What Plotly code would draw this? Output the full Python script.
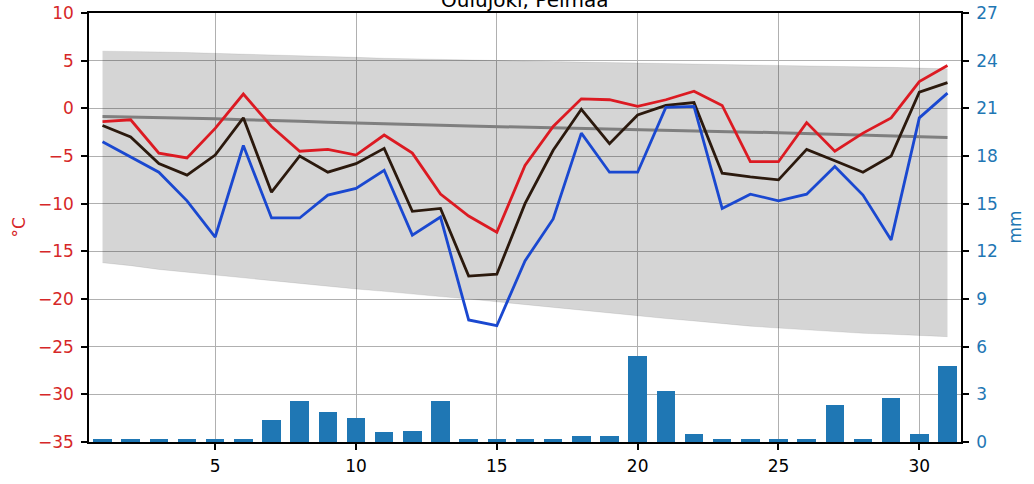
import plotly.graph_objects as go

days = list(range(1, 32))
title_text = "Oulujoki, Pelmaa"

t_max = [-1.4, -1.2, -4.7, -5.2, -2.1, 1.5, -1.9, -4.5, -4.3, -4.9, -2.8, -4.7, -9.0, -11.3, -13.0,
         -6.0, -1.9, 1.0, 0.9, 0.2, 0.9, 1.8, 0.3, -5.6, -5.6, -1.5, -4.5, -2.6, -1.0, 2.8, 4.5]
t_mean = [-1.8, -3.0, -5.8, -7.0, -4.9, -1.0, -8.8, -5.0, -6.7, -5.8, -4.2, -10.8, -10.5, -17.6, -17.4,
          -10.0, -4.4, -0.1, -3.7, -0.7, 0.3, 0.6, -6.8, -7.2, -7.5, -4.3, -5.5, -6.7, -5.0, 1.7, 2.7]
t_min = [-3.5, -5.1, -6.7, -9.7, -13.5, -3.9, -11.5, -11.5, -9.1, -8.4, -6.5, -13.3, -11.4, -22.2, -22.8,
         -16.0, -11.6, -2.6, -6.7, -6.7, 0.1, 0.2, -10.5, -9.0, -9.7, -9.0, -6.1, -9.1, -13.8, -1.0, 1.6]
precip = [0.2, 0.2, 0.2, 0.2, 0.2, 0.2, 1.4, 2.6, 1.9, 1.5, 0.6, 0.7, 2.6, 0.2, 0.2,
          0.2, 0.2, 0.4, 0.4, 5.4, 3.2, 0.5, 0.2, 0.2, 0.2, 0.2, 2.3, 0.2, 2.8, 0.5, 4.8]
band_upper = [6.0, 5.98, 5.92, 5.85, 5.78, 5.7, 5.62, 5.55, 5.45, 5.35, 5.25, 5.18, 5.12, 5.06, 5.0,
              4.95, 4.9, 4.85, 4.8, 4.76, 4.72, 4.68, 4.64, 4.6, 4.55, 4.5, 4.45, 4.38, 4.3, 4.22, 4.14]
band_lower = [-16.2, -16.5, -16.9, -17.2, -17.5, -17.8, -18.1, -18.4, -18.7, -18.95, -19.2, -19.5, -19.75,
              -20.0, -20.3, -20.6, -20.9, -21.2, -21.5, -21.8, -22.05, -22.3, -22.6, -22.85, -23.05,
              -23.25, -23.45, -23.6, -23.7, -23.8, -23.95]
median = [-0.85, -0.9, -0.95, -1.0, -1.1, -1.2, -1.25, -1.35, -1.45, -1.55, -1.65, -1.72, -1.78, -1.85,
          -1.92, -2.0, -2.05, -2.12, -2.2, -2.27, -2.33, -2.38, -2.43, -2.5, -2.55, -2.62, -2.7, -2.78,
          -2.86, -2.95, -3.05]

left_ticks = [10, 5, 0, -5, -10, -15, -20, -25, -30, -35]
right_ticks = [0, 3, 6, 9, 12, 15, 18, 21, 24, 27]
x_ticks = [5, 10, 15, 20, 25, 30]

RED = "#d62728"
BLUE = "#1f77b4"
FONT = "DejaVu Sans"

fig = go.Figure()

fig.add_trace(go.Scatter(x=days, y=band_lower, mode="lines",
                         line=dict(color="rgba(0,0,0,0.08)", width=1), showlegend=False))
fig.add_trace(go.Scatter(x=days, y=band_upper, mode="lines", fill="tonexty",
                         fillcolor="rgba(0,0,0,0.165)",
                         line=dict(color="rgba(0,0,0,0.08)", width=1), showlegend=False))
fig.add_trace(go.Scatter(x=days, y=median, mode="lines",
                         line=dict(color="#7f7f7f", width=3), showlegend=False))
fig.add_trace(go.Bar(x=days, y=precip, width=0.66, marker=dict(color=BLUE, line=dict(width=0)),
                     yaxis="y2", showlegend=False))
fig.add_trace(go.Scatter(x=days, y=t_max, mode="lines",
                         line=dict(color="#dc1a22", width=2.8), showlegend=False))
fig.add_trace(go.Scatter(x=days, y=t_mean, mode="lines",
                         line=dict(color="#2b190d", width=2.8), showlegend=False))
fig.add_trace(go.Scatter(x=days, y=t_min, mode="lines",
                         line=dict(color="#1a48d0", width=2.8), showlegend=False))

fig.update_layout(
    width=1034, height=484,
    margin=dict(l=89, r=73, t=13, b=42, autoexpand=False),
    paper_bgcolor="white", plot_bgcolor="white",
    font=dict(family=FONT, size=17, color="black"),
    bargap=0,
    xaxis=dict(range=[0.52, 31.48], tickvals=x_ticks, ticks="outside", ticklen=6, tickwidth=1.5,
               tickcolor="black", showline=True, linecolor="black", linewidth=1.5, mirror=True,
               showgrid=True, gridcolor="#b0b0b0", gridwidth=1, zeroline=False, automargin=False,
               tickfont=dict(size=17, color="black"), ticklabelstandoff=2),
    yaxis=dict(range=[-35, 10], tickvals=left_ticks, ticks="outside", ticklen=6, tickwidth=1.5,
               tickcolor="black", showline=True, linecolor="black", linewidth=1.5, automargin=False,
               showgrid=True, gridcolor="#b0b0b0", gridwidth=1, zeroline=False,
               tickfont=dict(size=17, color=RED), ticklabelstandoff=4),
    yaxis2=dict(range=[0, 27], tickvals=right_ticks, overlaying="y", side="right",
                ticks="outside", ticklen=6, tickwidth=1.5, tickcolor="black", automargin=False,
                showline=True, linecolor="black", linewidth=1.5, showgrid=False, zeroline=False,
                tickfont=dict(size=17, color=BLUE), ticklabelstandoff=4),
    annotations=[
        dict(text="°C", xref="paper", yref="paper", x=0, y=0.5, xshift=-71, textangle=-90,
             showarrow=False, font=dict(size=17, color=RED), xanchor="center", yanchor="middle"),
        dict(text="mm", xref="paper", yref="paper", x=1, y=0.5, xshift=53, textangle=-90,
             showarrow=False, font=dict(size=17, color=BLUE), xanchor="center", yanchor="middle"),
        dict(text=title_text, xref="paper", yref="paper", x=0.5, y=1, yshift=-1,
             showarrow=False, font=dict(size=20, color="black"), xanchor="center", yanchor="bottom"),
    ],
)

fig.write_html("out.html", config={"displayModeBar": False},
               post_script="document.body.style.margin='0';")
